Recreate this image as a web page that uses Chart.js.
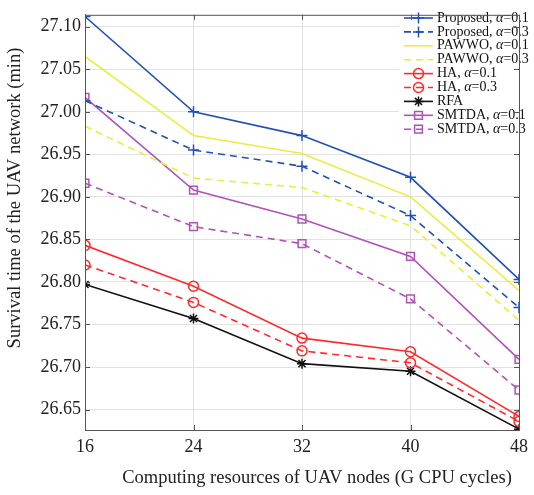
<!DOCTYPE html>
<html>
<head>
<meta charset="utf-8">
<script src="https://cdn.jsdelivr.net/npm/chart.js@4"></script>
<style>
  html, body { margin: 0; padding: 0; background: #fff; }
  canvas { display: block; }
</style>
</head>
<body>
<canvas id="lineChart" width="534" height="495"></canvas>
<script>
// computing resources (G CPU cycles)
const xValues = [16, 24, 32, 40, 48];
const yTicks = [26.65, 26.70, 26.75, 26.80, 26.85, 26.90, 26.95, 27.00, 27.05, 27.10];

const proposed01 = [27.112, 27.000, 26.972, 26.923, 26.803];
const proposed03 = [27.013, 26.955, 26.936, 26.878, 26.770];
const pawwo01 = [27.065, 26.972, 26.951, 26.900, 26.790];
const pawwo03 = [26.983, 26.922, 26.911, 26.866, 26.755];
const ha01 = [26.843, 26.795, 26.734, 26.718, 26.642];
const ha03 = [26.820, 26.776, 26.719, 26.705, 26.636];
const rfa = [26.797, 26.757, 26.704, 26.695, 26.627];
const smtda01 = [27.017, 26.908, 26.874, 26.830, 26.709];
const smtda03 = [26.916, 26.865, 26.845, 26.780, 26.673];

const xTitle = 'Computing resources of UAV nodes (G CPU cycles)';
const yTitle = 'Survival time of the UAV network (min)';

const BLUE = '#2152b0', YELLOW = '#ecec3a', RED = '#ff2a2a', BLACK = '#111111', PURPLE = '#b052b8';
const DASH = [7, 5];
const SERIF = '"Liberation Serif", "Times New Roman", serif';

function series(name, alpha, values, color, dashed, marker, r) {
  return {
    label: name, alpha: alpha,
    data: values.map((v, i) => ({ x: xValues[i], y: v })),
    borderColor: color,
    backgroundColor: 'transparent',
    borderWidth: 1.6,
    borderDash: dashed ? DASH : [],
    pointStyle: marker || false,
    pointRadius: marker ? r : 0,
    pointBorderColor: color,
    pointBackgroundColor: 'transparent',
    pointBorderWidth: 1.5,
    tension: 0
  };
}

const datasets = [
  series('Proposed', '0.1', proposed01, BLUE, false, 'cross', 5.5),
  series('Proposed', '0.3', proposed03, BLUE, true, 'cross', 5.5),
  series('PAWWO', '0.1', pawwo01, YELLOW, false, null, 0),
  series('PAWWO', '0.3', pawwo03, YELLOW, true, null, 0),
  series('HA', '0.1', ha01, RED, false, 'circle', 5),
  series('HA', '0.3', ha03, RED, true, 'circle', 5),
  series('RFA', null, rfa, BLACK, false, 'star', 5),
  series('SMTDA', '0.1', smtda01, PURPLE, false, 'rect', 5.5),
  series('SMTDA', '0.3', smtda03, PURPLE, true, 'rect', 5.5)
];

// box frame with inward ticks, plus axis titles placed like the original
const framePlugin = {
  id: 'frame',
  afterDraw(chart) {
    const { ctx, chartArea: a, scales } = chart;
    ctx.save();
    ctx.strokeStyle = '#555';
    ctx.lineWidth = 1;
    ctx.strokeRect(a.left + 0.5, a.top + 0.5, a.right - a.left, a.bottom - a.top);
    ctx.beginPath();
    yTicks.forEach(v => {
      const y = Math.round(scales.y.getPixelForValue(v)) + 0.5;
      ctx.moveTo(a.right, y); ctx.lineTo(a.right - 5, y);
      ctx.moveTo(a.left, y); ctx.lineTo(a.left + 5, y);
    });
    xValues.forEach(v => {
      const x = Math.round(scales.x.getPixelForValue(v)) + 0.5;
      ctx.moveTo(x, a.bottom); ctx.lineTo(x, a.bottom - 5);
      ctx.moveTo(x, a.top); ctx.lineTo(x, a.top + 5);
    });
    ctx.stroke();

    ctx.fillStyle = '#222';
    ctx.font = '18.5px ' + SERIF;
    ctx.textAlign = 'center';
    ctx.textBaseline = 'middle';
    ctx.fillText(xTitle, 317, 478);
    ctx.translate(15, 198);
    ctx.rotate(-Math.PI / 2);
    ctx.fillText(yTitle, 0, 0);
    ctx.restore();
  }
};

// MATLAB-style legend: line sample with marker, text with italic alpha
const legendPlugin = {
  id: 'matlabLegend',
  afterDatasetsDraw(chart) {
    const ctx = chart.ctx;
    const x0 = 399, y0 = 7, rowH = 13.9;
    ctx.save();
    ctx.fillStyle = '#fff';
    ctx.fillRect(x0, y0, 140, rowH * 9 + 4);
    chart.data.datasets.forEach((ds, i) => {
      const y = y0 + 11 + i * rowH;
      ctx.strokeStyle = ds.borderColor;
      ctx.lineWidth = 1.6;
      ctx.setLineDash(ds.borderDash);
      ctx.beginPath();
      ctx.moveTo(404, y); ctx.lineTo(433, y);
      ctx.stroke();
      ctx.setLineDash([]);
      if (ds.pointStyle) {
        ctx.lineWidth = 1.5;
        ctx.fillStyle = 'rgba(0,0,0,0)';
        Chart.helpers.drawPoint(ctx, { pointStyle: ds.pointStyle, radius: ds.pointRadius, borderWidth: 1.5 }, 418.5, y);
      }
      ctx.fillStyle = '#111';
      ctx.textAlign = 'left';
      ctx.textBaseline = 'middle';
      let tx = 437;
      const txt = ds.alpha ? ds.label + ', ' : ds.label;
      ctx.font = '14px ' + SERIF;
      ctx.fillText(txt, tx, y);
      tx += ctx.measureText(txt).width;
      if (ds.alpha) {
        ctx.font = 'italic 14px ' + SERIF;
        ctx.fillText('\u03b1', tx, y);
        tx += ctx.measureText('\u03b1').width;
        ctx.font = '14px ' + SERIF;
        ctx.fillText('=' + ds.alpha, tx, y);
      }
    });
    ctx.restore();
  }
};

new Chart(document.getElementById('lineChart').getContext('2d'), {
  type: 'line',
  data: { datasets: datasets },
  plugins: [legendPlugin, framePlugin],
  options: {
    responsive: false,
    animation: false,
    layout: { padding: { top: 3, right: 10, left: 0, bottom: 0 } },
    plugins: { legend: { display: false }, tooltip: { enabled: false } },
    scales: {
      x: {
        type: 'linear', min: 16, max: 48,
        afterBuildTicks: axis => { axis.ticks = xValues.map(v => ({ value: v })); },
        afterFit: axis => { axis.height = 65; },
        grid: { color: '#e2e2e2', drawTicks: false },
        border: { color: '#555' },
        ticks: { color: '#222', padding: 6, font: { family: SERIF, size: 18 } },
        title: { display: false }
      },
      y: {
        type: 'linear', min: 26.626, max: 27.114,
        afterBuildTicks: axis => { axis.ticks = yTicks.map(v => ({ value: v })); },
        afterFit: axis => { axis.width = 85; },
        grid: { color: '#e2e2e2', drawTicks: false },
        border: { color: '#555' },
        ticks: { color: '#222', padding: 4, font: { family: SERIF, size: 18 }, callback: v => v.toFixed(2) },
        title: { display: false }
      }
    }
  }
});
</script>
</body>
</html>
